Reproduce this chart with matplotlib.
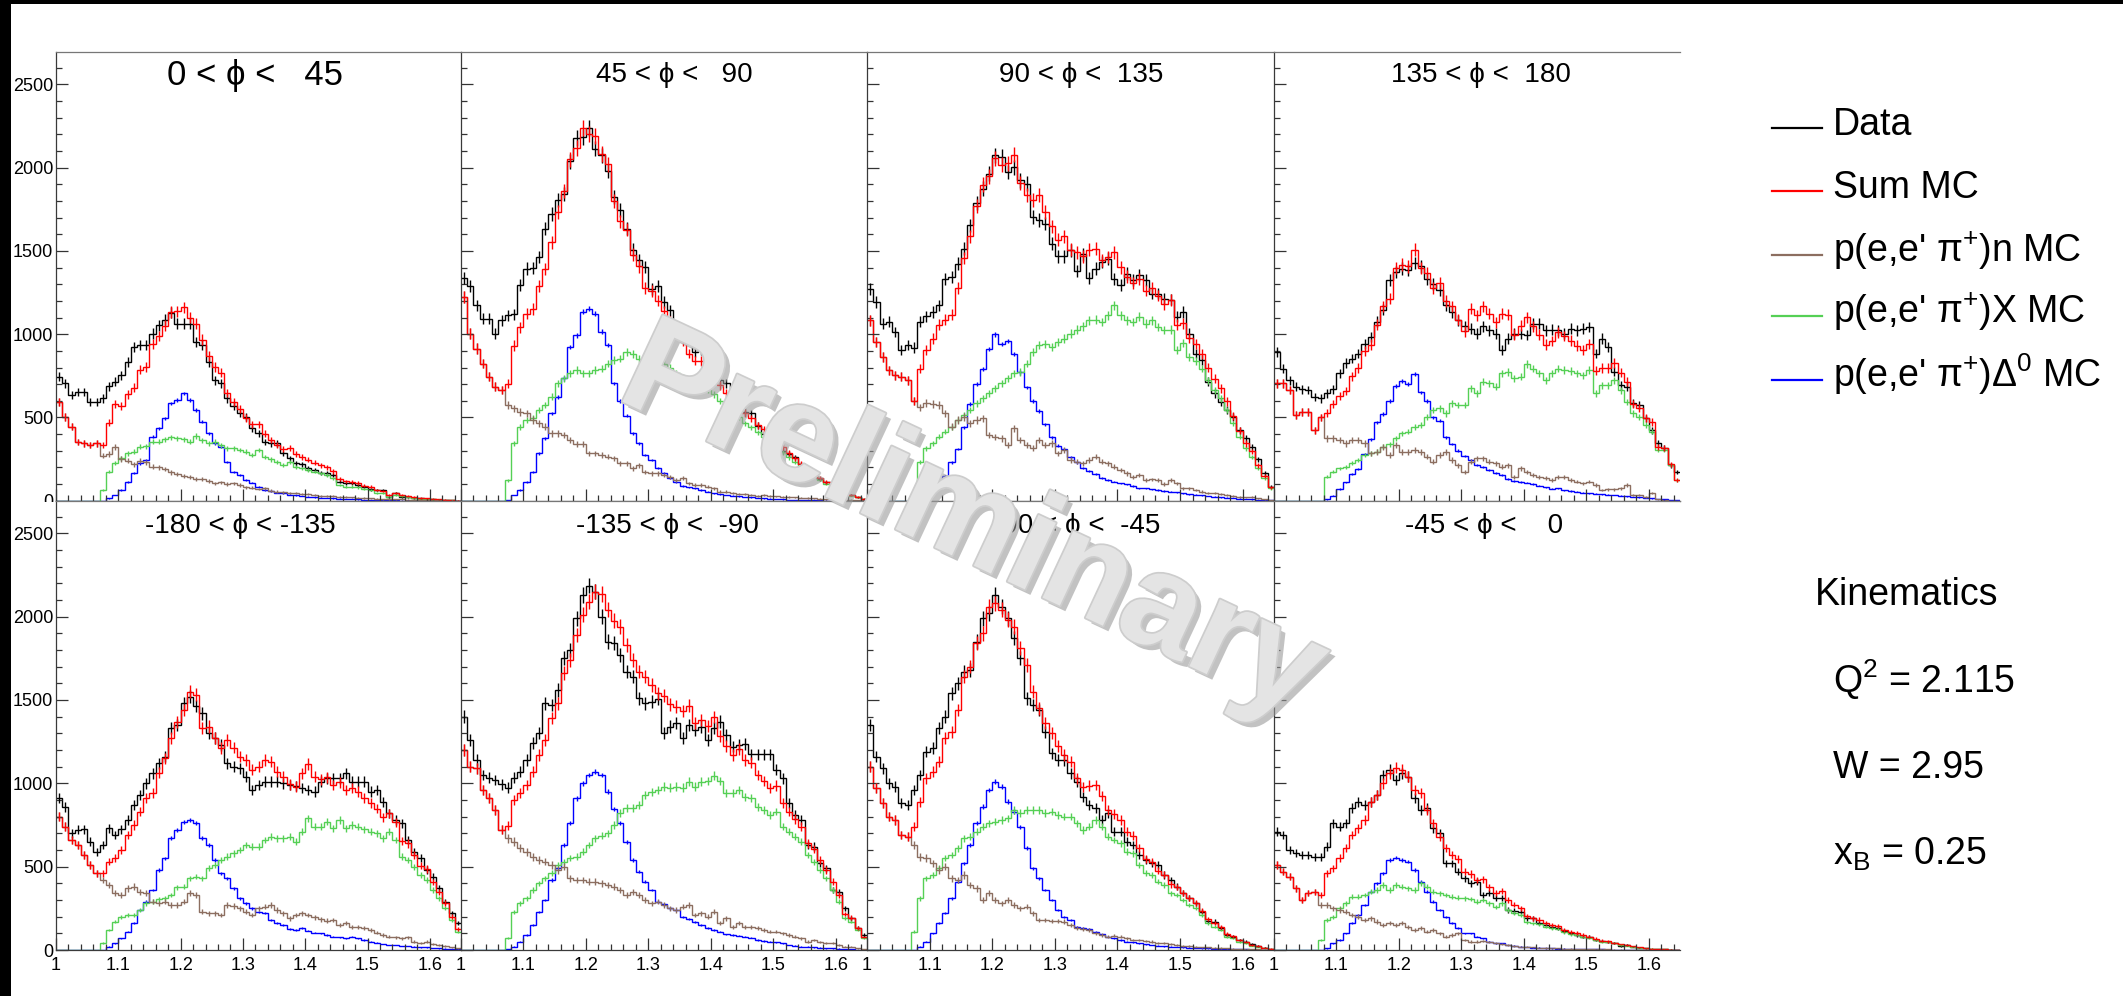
import numpy as np
import matplotlib
matplotlib.use("Agg")
import matplotlib.pyplot as plt
import matplotlib.patheffects as pe
from matplotlib.lines import Line2D
from matplotlib.patches import Rectangle
from matplotlib.ticker import MultipleLocator

plt.rcParams['font.family'] = ['Liberation Sans', 'DejaVu Sans']
plt.rcParams['mathtext.fontset'] = 'custom'
plt.rcParams['mathtext.rm'] = 'Liberation Sans'
plt.rcParams['mathtext.it'] = 'Liberation Sans:italic'
plt.rcParams['mathtext.bf'] = 'Liberation Sans:bold'

# W bins, 0.01 wide from 1.00 to 1.65
edges = np.linspace(1.0, 1.65, 66)
centers = 0.5 * (edges[:-1] + edges[1:])

phi_lo = [0, 45, 90, 135, -180, -135, -90, -45]
phi_hi = [45, 90, 135, 180, -135, -90, -45, 0]

# ---- 0 < phi < 45
data1 = [744, 704, 634, 654, 654, 594, 594, 614, 688, 714,
         754, 834, 924, 934, 934, 1004, 1054, 1088, 1128, 1064,
         1064, 1064, 954, 934, 834, 724, 704, 614, 568, 524,
         504, 434, 404, 354, 344, 344, 284, 254, 224, 220,
         194, 184, 168, 164, 154, 114, 104, 104, 94, 84,
         68, 64, 64, 24, 48, 24, 20, 14, 14, 10,
         8, 6, 4, 2, 0]
npi1 = [594, 504, 444, 354, 344, 334, 344, 270, 280, 320,
        250, 240, 220, 240, 230, 205, 200, 190, 170, 160,
        150, 140, 130, 130, 120, 105, 110, 100, 105, 95,
        80, 78, 70, 75, 60, 55, 50, 45, 45, 40,
        38, 35, 30, 30, 28, 25, 22, 20, 18, 16,
        14, 12, 10, 10, 8, 8, 6, 6, 5, 4,
        3, 3, 2, 1, 1]
xmc1 = [0, 0, 0, 0, 0, 0, 0, 64, 174, 224,
        254, 284, 294, 324, 328, 354, 354, 368, 380, 374,
        368, 354, 388, 364, 344, 354, 334, 314, 314, 304,
        294, 274, 304, 264, 248, 234, 214, 234, 204, 194,
        184, 174, 164, 154, 134, 94, 84, 84, 80, 68,
        64, 48, 44, 24, 34, 28, 22, 16, 12, 10,
        8, 6, 4, 2, 0]
dlt1 = [0, 0, 0, 0, 0, 0, 0, 0, 14, 34,
        64, 114, 164, 224, 244, 384, 434, 494, 584, 604,
        644, 604, 544, 474, 404, 344, 324, 234, 174, 154,
        124, 108, 84, 64, 58, 48, 44, 36, 32, 28,
        24, 20, 18, 16, 14, 12, 10, 9, 8, 6,
        5, 4, 3, 2, 2, 1, 1, 0, 0, 0,
        0, 0, 0, 0, 0]

# ---- 45 < phi < 90
data2 = [1340, 1288, 1174, 1094, 1094, 1004, 1084, 1114, 1120, 1294,
         1394, 1398, 1464, 1634, 1724, 1804, 1844, 2040, 2180, 2184,
         2240, 2114, 2074, 1980, 1824, 1748, 1634, 1508, 1444, 1404,
         1274, 1288, 1194, 1144, 1024, 1014, 980, 894, 904, 784,
         774, 724, 704, 624, 604, 534, 524, 450, 400, 370,
         330, 300, 280, 260, 220, 190, 160, 130, 110, 90,
         70, 50, 32, 20, 10]
npi2 = [1224, 1004, 914, 824, 744, 684, 664, 574, 554, 534,
        524, 484, 464, 444, 404, 404, 394, 364, 340, 340,
        284, 284, 274, 264, 254, 224, 224, 194, 214, 174,
        164, 164, 154, 144, 124, 134, 104, 94, 94, 84,
        74, 54, 54, 48, 40, 40, 34, 28, 34, 28,
        26, 24, 22, 20, 18, 16, 14, 12, 10, 9,
        8, 6, 5, 4, 3]
xmc2 = [0, 0, 0, 0, 0, 0, 0, 124, 344, 444,
        484, 494, 544, 574, 624, 704, 734, 764, 784, 764,
        764, 784, 794, 824, 844, 854, 894, 880, 850, 830,
        850, 844, 820, 800, 764, 740, 700, 674, 680, 670,
        640, 600, 560, 524, 500, 464, 440, 410, 380, 350,
        320, 290, 260, 230, 200, 175, 150, 125, 100, 80,
        60, 45, 30, 20, 10]
dlt2 = [0, 0, 0, 0, 0, 0, 0, 4, 34, 64,
        114, 174, 284, 374, 524, 624, 734, 924, 994, 1134,
        1154, 1124, 1014, 934, 704, 600, 510, 404, 344, 274,
        244, 194, 164, 134, 114, 88, 80, 74, 64, 54,
        44, 40, 34, 30, 26, 22, 20, 16, 14, 12,
        10, 8, 6, 5, 4, 3, 2, 2, 1, 1,
        0, 0, 0, 0, 0]

# ---- 90 < phi < 135
data3 = [1274, 1194, 1064, 1074, 1014, 904, 934, 920, 1074, 1108,
         1134, 1174, 1334, 1344, 1424, 1514, 1654, 1788, 1874, 1964,
         2074, 2064, 1974, 2004, 1924, 1904, 1704, 1684, 1664, 1544,
         1468, 1468, 1504, 1380, 1480, 1340, 1394, 1434, 1454, 1334,
         1294, 1364, 1324, 1354, 1324, 1244, 1244, 1214, 1208, 1104,
         1134, 1004, 884, 844, 714, 644, 594, 544, 504, 424,
         374, 324, 248, 164, 84]
npi3 = [1084, 954, 864, 784, 754, 744, 724, 600, 560, 584,
        580, 574, 524, 444, 484, 504, 464, 484, 494, 394,
        384, 374, 334, 434, 364, 334, 314, 364, 334, 344,
        284, 304, 244, 234, 224, 244, 264, 234, 224, 204,
        184, 164, 144, 154, 124, 128, 124, 100, 124, 104,
        74, 74, 64, 54, 48, 44, 40, 34, 28, 24,
        20, 24, 14, 8, 4]
xmc3 = [0, 0, 0, 0, 0, 0, 0, 0, 234, 314,
        344, 384, 414, 444, 484, 514, 544, 584, 614, 644,
        674, 704, 734, 764, 774, 824, 894, 934, 940, 924,
        954, 974, 1004, 1028, 1048, 1084, 1088, 1074, 1114, 1174,
        1114, 1084, 1074, 1104, 1064, 1084, 1044, 1024, 1028, 904,
        948, 864, 840, 794, 724, 664, 614, 544, 464, 384,
        314, 264, 194, 134, 74]
dlt3 = [0, 0, 0, 0, 0, 0, 0, 0, 0, 10,
        50, 100, 150, 230, 310, 440, 580, 700, 790, 910,
        1000, 940, 960, 880, 770, 680, 600, 540, 460, 380,
        330, 310, 260, 230, 195, 180, 160, 135, 125, 115,
        104, 98, 88, 74, 74, 68, 64, 58, 54, 50,
        44, 40, 36, 32, 28, 24, 20, 18, 16, 12,
        10, 8, 6, 4, 2]

# ---- 135 < phi < 180
data4 = [894, 794, 724, 684, 668, 664, 624, 614, 644, 668,
         764, 828, 854, 884, 940, 984, 1074, 1148, 1328, 1374,
         1394, 1384, 1428, 1408, 1334, 1304, 1264, 1174, 1134, 1084,
         1048, 1034, 1004, 1048, 1024, 1004, 904, 974, 1004, 1000,
         994, 1064, 1064, 1024, 1028, 1024, 1004, 1034, 1024, 1034,
         1044, 884, 974, 924, 774, 694, 684, 584, 574, 494,
         424, 344, 314, 214, 174]
npi4 = [704, 704, 664, 514, 534, 534, 424, 500, 374, 374,
        364, 344, 364, 364, 344, 284, 294, 324, 274, 334,
        294, 294, 304, 294, 264, 234, 274, 294, 244, 214,
        174, 234, 254, 254, 234, 224, 204, 214, 144, 194,
        174, 154, 144, 134, 124, 144, 144, 124, 114, 104,
        114, 94, 64, 68, 68, 74, 94, 34, 34, 24,
        44, 8, 4, 0, 0]
xmc4 = [0, 0, 0, 0, 0, 0, 0, 0, 144, 174,
        194, 204, 224, 244, 274, 284, 294, 324, 340, 374,
        404, 414, 444, 454, 504, 544, 554, 524, 584, 574,
        574, 674, 644, 714, 704, 684, 764, 774, 734, 744,
        820, 794, 764, 724, 764, 794, 784, 780, 764, 754,
        784, 644, 694, 694, 724, 664, 594, 524, 504, 454,
        414, 304, 304, 214, 124]
dlt4 = [0, 0, 0, 0, 0, 0, 0, 0, 8, 30,
        70, 110, 160, 190, 280, 370, 470, 520, 600, 690,
        720, 700, 760, 650, 600, 500, 480, 380, 340, 300,
        270, 245, 215, 200, 185, 165, 155, 130, 120, 114,
        108, 100, 90, 80, 72, 74, 62, 58, 54, 48,
        44, 42, 40, 36, 34, 30, 26, 22, 20, 18,
        14, 10, 8, 4, 2]

# ---- -180 < phi < -135
data5 = [910, 860, 700, 720, 724, 650, 590, 630, 730, 690,
         724, 780, 870, 930, 1000, 1060, 1120, 1160, 1330, 1350,
         1480, 1520, 1464, 1420, 1300, 1270, 1230, 1120, 1100, 1090,
         1040, 960, 990, 1010, 1010, 1010, 1000, 990, 984, 970,
         960, 950, 1010, 1030, 1030, 1030, 1060, 1010, 1010, 1010,
         950, 960, 890, 820, 780, 760, 660, 590, 550, 480,
         440, 370, 290, 220, 160]
npi5 = [800, 740, 660, 630, 570, 510, 460, 420, 390, 340,
        330, 370, 380, 350, 340, 290, 280, 290, 270, 270,
        290, 340, 330, 230, 220, 220, 210, 270, 264, 250,
        230, 210, 250, 260, 270, 240, 220, 190, 210, 220,
        210, 196, 184, 176, 180, 150, 160, 140, 140, 130,
        120, 104, 90, 80, 76, 70, 76, 50, 40, 50,
        36, 30, 24, 16, 10]
xmc5 = [0, 0, 0, 0, 0, 0, 0, 40, 120, 170,
        200, 210, 210, 240, 280, 290, 304, 310, 330, 376,
        380, 430, 440, 430, 490, 510, 540, 560, 580, 600,
        630, 620, 620, 660, 680, 670, 670, 680, 650, 710,
        790, 740, 740, 770, 730, 780, 730, 750, 740, 724,
        710, 700, 670, 710, 660, 560, 540, 500, 450, 420,
        360, 310, 250, 180, 110]
dlt5 = [0, 0, 0, 0, 0, 0, 0, 0, 20, 40,
        70, 110, 160, 240, 290, 360, 480, 550, 670, 720,
        770, 780, 760, 670, 630, 540, 460, 430, 370, 310,
        280, 250, 230, 220, 180, 160, 150, 124, 120, 130,
        116, 104, 100, 90, 80, 76, 70, 80, 70, 60,
        50, 44, 36, 30, 30, 24, 24, 20, 16, 16,
        12, 10, 8, 4, 4]

# ---- -135 < phi < -90
data6 = [1400, 1260, 1140, 1050, 1034, 1020, 994, 974, 1034, 1070,
         1140, 1240, 1300, 1480, 1470, 1560, 1750, 1800, 1990, 2130,
         2186, 2150, 2000, 1850, 1840, 1770, 1670, 1640, 1510, 1480,
         1490, 1506, 1300, 1340, 1360, 1270, 1350, 1320, 1340, 1260,
         1330, 1370, 1290, 1220, 1230, 1234, 1174, 1174, 1174, 1174,
         1080, 1030, 880, 810, 780, 630, 620, 520, 490, 360,
         350, 250, 190, 130, 90]
npi6 = [1200, 1100, 1090, 960, 910, 840, 720, 670, 650, 610,
        590, 560, 540, 530, 510, 480, 500, 430, 420, 420,
        410, 410, 400, 390, 380, 360, 330, 350, 330, 300,
        280, 290, 270, 250, 240, 260, 270, 210, 220, 200,
        230, 160, 190, 140, 160, 140, 140, 130, 120, 110,
        110, 100, 90, 80, 70, 50, 60, 46, 40, 40,
        30, 20, 20, 10, 6]
xmc6 = [0, 0, 0, 0, 0, 0, 0, 70, 230, 280,
        310, 360, 400, 430, 460, 510, 530, 550, 560, 590,
        630, 670, 686, 700, 750, 820, 850, 850, 870, 930,
        950, 960, 980, 974, 980, 974, 1010, 980, 1010, 1014,
        1046, 1014, 940, 940, 960, 920, 910, 860, 840, 810,
        830, 740, 710, 680, 650, 570, 530, 480, 430, 360,
        290, 190, 170, 120, 70]
dlt6 = [0, 0, 0, 0, 0, 0, 0, 6, 20, 50,
        90, 150, 230, 300, 420, 490, 630, 760, 910, 1000,
        1050, 1070, 1050, 950, 846, 760, 650, 540, 470, 410,
        360, 290, 274, 250, 240, 200, 186, 170, 150, 130,
        120, 110, 94, 90, 86, 80, 74, 60, 54, 50,
        46, 40, 30, 26, 20, 20, 16, 14, 10, 10,
        8, 6, 4, 2, 2]

# ---- -90 < phi < -45
data7 = [1350, 1160, 1090, 1000, 980, 880, 870, 960, 1050, 1190,
         1210, 1330, 1400, 1540, 1600, 1670, 1680, 1850, 1990, 2020,
         2130, 2060, 1990, 1870, 1750, 1510, 1470, 1440, 1310, 1180,
         1140, 1140, 1060, 1010, 920, 870, 850, 780, 820, 710,
         710, 650, 630, 570, 540, 520, 510, 450, 420, 380,
         340, 310, 280, 230, 174, 170, 134, 90, 80, 60,
         50, 34, 26, 14, 6]
npi7 = [1100, 970, 880, 800, 780, 690, 680, 630, 560, 550,
        520, 480, 500, 430, 420, 450, 390, 370, 300, 340,
        300, 280, 300, 270, 250, 260, 220, 180, 180, 174,
        174, 170, 150, 130, 126, 120, 100, 90, 80, 86,
        80, 70, 60, 60, 54, 50, 40, 40, 34, 30,
        26, 26, 20, 16, 16, 14, 12, 10, 8, 6,
        6, 4, 3, 2, 1]
xmc7 = [0, 0, 0, 0, 0, 0, 0, 110, 310, 430,
        450, 490, 550, 570, 610, 670, 680, 710, 740, 760,
        770, 780, 790, 840, 820, 840, 840, 840, 820, 830,
        810, 800, 800, 760, 720, 740, 780, 740, 680, 660,
        640, 590, 580, 510, 460, 450, 410, 390, 340, 330,
        300, 270, 250, 210, 160, 140, 120, 80, 70, 50,
        40, 26, 20, 10, 6]
dlt7 = [0, 0, 0, 0, 0, 0, 0, 0, 20, 50,
        100, 160, 220, 310, 410, 520, 630, 760, 860, 960,
        1010, 980, 890, 830, 740, 610, 490, 430, 360, 300,
        240, 200, 180, 140, 130, 126, 110, 94, 80, 70,
        60, 50, 46, 40, 34, 30, 26, 22, 20, 18,
        16, 14, 12, 10, 9, 8, 7, 6, 5, 4,
        3, 2, 2, 1, 1]

# ---- -45 < phi < 0
data8 = [710, 690, 600, 580, 570, 570, 560, 560, 620, 760,
         740, 760, 850, 890, 870, 890, 930, 1050, 1080, 1020,
         1060, 1040, 910, 840, 850, 730, 700, 520, 520, 470,
         430, 400, 410, 330, 340, 310, 310, 240, 234, 230,
         190, 190, 160, 150, 140, 130, 114, 100, 90, 80,
         80, 60, 54, 46, 40, 26, 30, 20, 14, 10,
         6, 6, 4, 2, 1]
npi8 = [510, 470, 440, 370, 300, 340, 350, 270, 270, 250,
        240, 230, 210, 200, 180, 190, 170, 150, 160, 150,
        160, 140, 120, 130, 110, 120, 100, 80, 90, 100,
        60, 50, 50, 54, 46, 40, 34, 30, 26, 20,
        20, 16, 14, 12, 10, 10, 8, 8, 6, 6,
        5, 4, 3, 3, 2, 2, 1, 1, 1, 1,
        0, 0, 0, 0, 0]
xmc8 = [0, 0, 0, 0, 0, 0, 0, 60, 180, 200,
        250, 280, 320, 320, 330, 350, 360, 390, 360, 390,
        380, 370, 360, 400, 380, 350, 340, 330, 320, 314,
        310, 306, 290, 300, 280, 260, 280, 240, 220, 210,
        166, 160, 154, 140, 130, 126, 106, 94, 90, 80,
        70, 60, 50, 46, 40, 30, 26, 20, 14, 10,
        8, 6, 4, 2, 1]
dlt8 = [0, 0, 0, 0, 0, 0, 0, 0, 10, 40,
        60, 100, 160, 210, 270, 350, 400, 460, 540, 554,
        540, 530, 480, 410, 350, 290, 240, 200, 160, 130,
        100, 100, 80, 70, 50, 40, 40, 30, 26, 20,
        18, 14, 14, 10, 10, 8, 8, 6, 6, 4,
        4, 3, 3, 2, 2, 1, 1, 1, 0, 0,
        0, 0, 0, 0, 0]

panels = [(data1, npi1, xmc1, dlt1), (data2, npi2, xmc2, dlt2),
          (data3, npi3, xmc3, dlt3), (data4, npi4, xmc4, dlt4),
          (data5, npi5, xmc5, dlt5), (data6, npi6, xmc6, dlt6),
          (data7, npi7, xmc7, dlt7), (data8, npi8, xmc8, dlt8)]

legend_names = ["Data", "Sum MC",
                r"p(e,e' $\mathrm{\pi^{+}}$)n MC",
                r"p(e,e' $\mathrm{\pi^{+}}$)X MC",
                r"p(e,e' $\mathrm{\pi^{+}}$)$\mathrm{\Delta^{0}}$ MC"]
kin_lines = [r"$\mathrm{Q^{2}}$ = 2.115", "W = 2.95", r"$\mathrm{x_{B}}$ = 0.25"]

C_DATA, C_SUM, C_N, C_X, C_D = 'black', '#ff0000', '#8c6e60', '#55d055', '#0000ff'

W, H = 2123, 996
fig = plt.figure(figsize=(W / 100, H / 100), dpi=100)
fig.patch.set_facecolor('white')

def fx(x):
    return x / W

def fy(y):
    return 1 - y / H

col_x = [56, 461, 867, 1274, 1680]
row_y = [52, 500.7, 950]
title_x = [255, 674, 1081, 1481, 240, 667, 1077, 1484]

def draw_hist(ax, vals, color, escale):
    v = np.array(vals, dtype=float)
    ax.stairs(v, edges, color=color, lw=1.0, baseline=None)
    ax.errorbar(centers, v, yerr=np.sqrt(v) * escale, fmt='none',
                ecolor=color, elinewidth=1.0, capsize=0)

for k, (dat, npi, xmc, dlt) in enumerate(panels):
    r, c = divmod(k, 4)
    x0, x1 = col_x[c], col_x[c + 1]
    y0, y1 = row_y[r], row_y[r + 1]
    ax = fig.add_axes([fx(x0), fy(y1), fx(x1 - x0), (y1 - y0) / H])
    if r == 1:
        ax.set_zorder(2)
    summc = np.array(npi) + np.array(xmc) + np.array(dlt)

    draw_hist(ax, dat, C_DATA, 1.0)
    draw_hist(ax, dlt, C_D, 0.45)
    draw_hist(ax, xmc, C_X, 0.8)
    draw_hist(ax, npi, C_N, 1.0)
    draw_hist(ax, summc, C_SUM, 1.0)

    ax.set_xlim(1.0, 1.65)
    ax.set_ylim(0, 2695)
    ax.set_xticks([1.0, 1.1, 1.2, 1.3, 1.4, 1.5, 1.6])
    ax.set_xticklabels(["1", "1.1", "1.2", "1.3", "1.4", "1.5", "1.6"])
    ax.xaxis.set_minor_locator(MultipleLocator(0.02))
    ax.set_yticks([0, 500, 1000, 1500, 2000, 2500])
    ax.yaxis.set_minor_locator(MultipleLocator(100))
    ax.tick_params(which='both', direction='in', top=False, right=False,
                   labelsize=13, color='#333333')
    ax.tick_params(which='major', length=8.5, width=0.9)
    ax.tick_params(which='minor', length=4.3, width=0.9)
    ax.tick_params(axis='y', pad=2)
    ax.tick_params(axis='x', pad=5)
    ax.tick_params(labelleft=(c == 0), labelbottom=(r == 1))
    for s in ['left', 'bottom']:
        ax.spines[s].set_color('#3a3a3a')
        ax.spines[s].set_linewidth(0.9)
    ax.spines['right'].set_visible(False)
    ax.spines['top'].set_color('#777777')
    ax.spines['top'].set_linewidth(0.9)

    title = f"{phi_lo[k]} < ϕ < {phi_hi[k]:4d}"
    fs = 25 if k == 0 else 20
    base = y0 + (33 if k == 0 else 30.5) if r == 0 else y0 + 32.5
    fig.text(fx(title_x[k]), fy(base), title, ha='center', va='baseline',
             fontsize=fs, zorder=5)

# the lower pads hide the bottom half of the upper "0" label
fig.add_artist(Rectangle((fx(11), fy(960)), fx(45), (960 - 502) / H,
                         transform=fig.transFigure, facecolor='white',
                         edgecolor='none', zorder=1))

# legend
leg_base = [135, 198, 262, 323, 387]
leg_col = [C_DATA, C_SUM, C_N, C_X, C_D]
for name, col, yb in zip(legend_names, leg_col, leg_base):
    fig.add_artist(Line2D([fx(1772), fx(1822)], [fy(yb - 7)] * 2,
                          transform=fig.transFigure, color=col, lw=1.6))
    fig.text(fx(1833), fy(yb), name, fontsize=27, va='baseline', ha='left')

# kinematics box
fig.text(fx(1815), fy(605), "Kinematics", fontsize=27, va='baseline')
for txt, yb in zip(kin_lines, [693, 778, 865]):
    fig.text(fx(1833), fy(yb), txt, fontsize=27, va='baseline')

# watermark
fig.text(fx(972), fy(525), "Preliminary", fontsize=100, fontweight='bold',
         color='#e4e4e4', rotation=-25, rotation_mode='anchor',
         ha='center', va='center', zorder=10,
         path_effects=[pe.SimplePatchShadow(offset=(4, -4), shadow_rgbFace='#9a9a9a', alpha=0.6),
                       pe.withStroke(linewidth=2.5, foreground='#cdcdcd')])

# black screen borders
fig.add_artist(Rectangle((0, 0), fx(11), 1, transform=fig.transFigure,
                         facecolor='black', edgecolor='none', zorder=20))
fig.add_artist(Rectangle((0, fy(4)), 1, 4 / H, transform=fig.transFigure,
                         facecolor='black', edgecolor='none', zorder=20))

fig.savefig("out.png", dpi=100, facecolor='white')
